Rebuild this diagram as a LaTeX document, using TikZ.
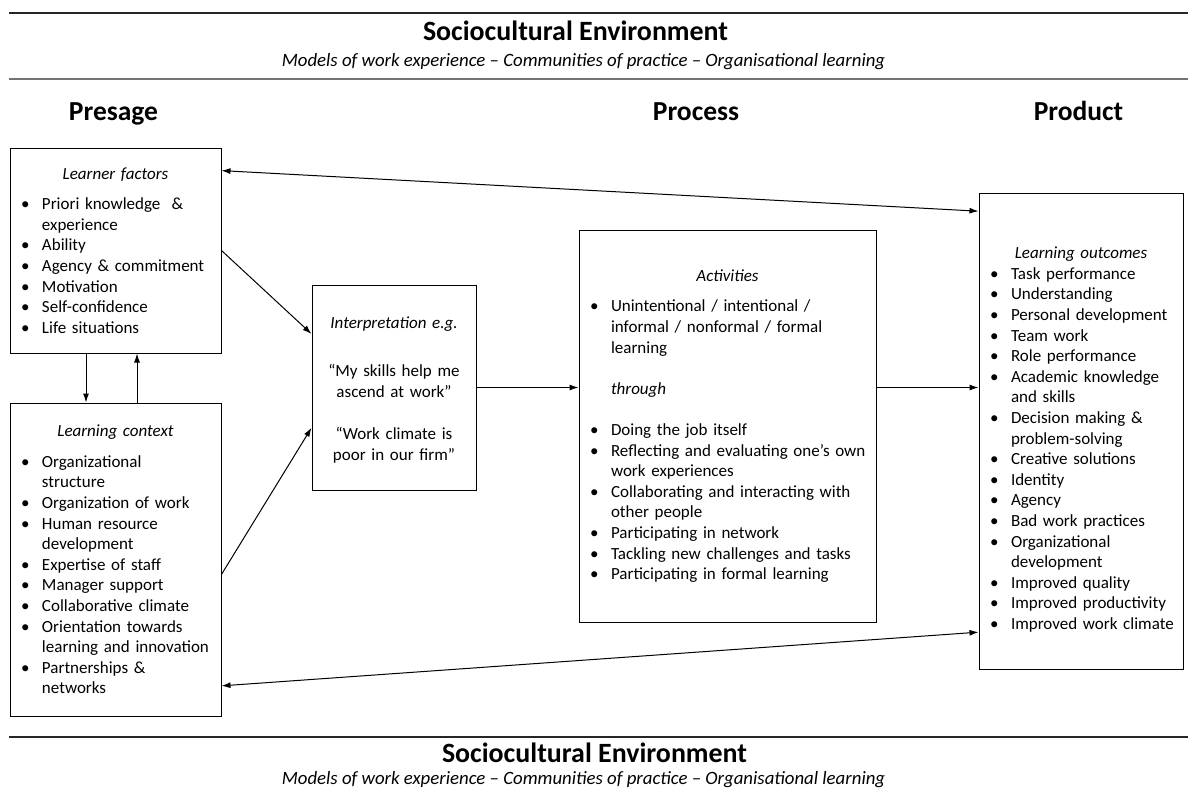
\documentclass[tikz,border=0pt]{standalone}
\usepackage{fontspec}
\setmainfont{Carlito}
\usepackage{tikz}
\usetikzlibrary{arrows.meta}

\newcommand{\bitem}[1]{\par\hangindent=32pt\hangafter=1\noindent\hspace*{11pt}\makebox[21pt][l]{\textbullet}#1}
\newcommand{\boxhead}[1]{{\centering\itshape #1\par}}

\tikzstyle{line} = [draw, line width=1pt, -{Latex[length=9pt, width=6pt]}]
\tikzstyle{dline} = [draw, line width=1pt, {Latex[length=9pt, width=6pt]}-{Latex[length=9pt, width=6pt]}]
\tikzstyle{box} = [rectangle, draw, line width=1pt, inner sep=0pt, align=left, font=\fontsize{17}{20.6}\selectfont]
\tikzstyle{sep} = [draw, black!85, line width=1.3pt]
\tikzstyle{env_title} = [anchor=base, inner sep=1pt, text depth=0pt, font=\fontsize{27.9}{30}\selectfont\bfseries]
\tikzstyle{env_sub} = [anchor=base, inner sep=1pt, text height=13pt, font=\fontsize{18.8}{22}\selectfont\itshape]
\tikzstyle{phase} = [anchor=base, font=\fontsize{27.5}{30}\selectfont\bfseries]

\begin{document}
\begin{tikzpicture}[x=1pt, y=1pt]
\useasboundingbox (0,0) rectangle (1188,-796);

% sociocultural environment, top
\path [sep] (9,-13) -- (1188,-13);
\node [env_title] (env_top) at (575.5,-40) {Sociocultural Environment};
\node [env_sub] (env_top_sub) at (583.5,-66) {Models of work experience -- Communities of practice -- Organisational learning};
\path [sep, black!55, line width=2.5pt] (9,-79) -- (1188,-79);

\node [phase] (presage) at (113.5,-120) {Presage};
\node [phase] (process) at (696,-120) {Process};
\node [phase] (product) at (1078.5,-120) {Product};

% presage
\node [box, minimum width=211pt, minimum height=205pt, text width=211pt] (lf) at (115.5,-250.5) {\boxhead{Learner factors}\vspace{10pt}
\bitem{Priori knowledge~ \&\newline experience}
\bitem{Ability}
\bitem{Agency \& commitment}
\bitem{Motivation}
\bitem{Self-confidence}
\bitem{Life situations}\par};

\node [box, minimum width=211pt, minimum height=313pt, text width=211pt, below of=lf, node distance=309pt] (lc) {\boxhead{Learning context}\vspace{10pt}
\bitem{Organizational\newline structure}
\bitem{Organization of work}
\bitem{Human resource\newline development}
\bitem{Expertise of staff}
\bitem{Manager support}
\bitem{Collaborative climate}
\bitem{Orientation towards\newline learning and innovation}
\bitem{Partnerships \&\newline networks}\par};

\path [line] ([xshift=-29.5pt]lf.south) -- ([xshift=-29.5pt]lf.south |- lc.north);
\path [line] ([xshift=21.5pt]lc.north) -- ([xshift=21.5pt]lc.north |- lf.south);

% process
\node [box, align=center, minimum width=164pt, minimum height=205pt, text width=164pt, right of=lf, node distance=278.5pt, yshift=-137pt] (interp) {\rule{0pt}{16pt}\textit{Interpretation e.g.}\\[28pt]“My skills help me\\ascend at work”\\[21.5pt]“Work climate is\\poor in our firm”};

\node [box, minimum width=297pt, minimum height=392pt, text width=297pt, right of=interp, node distance=333.5pt, yshift=-38.5pt] (act) {\boxhead{Activities}\vspace{10pt}
\bitem{Unintentional / intentional /\newline informal / nonformal / formal\newline learning}
\par\vspace{20.6pt}\noindent\hspace*{32pt}\textit{through}\par\vspace{20.6pt}
\bitem{Doing the job itself}
\bitem{Reflecting and evaluating one’s own\newline work experiences}
\bitem{Collaborating and interacting with\newline other people}
\bitem{Participating in network}
\bitem{Tackling new challenges and tasks}
\bitem{Participating in formal learning}\par};

% product
\node [box, minimum width=204pt, minimum height=476pt, text width=204pt, right of=act, node distance=353.5pt, yshift=-5pt] (out) {\boxhead{\rule{0pt}{29pt}Learning outcomes}
\bitem{Task performance}
\bitem{Understanding}
\bitem{Personal development}
\bitem{Team work}
\bitem{Role performance}
\bitem{Academic knowledge\newline and skills}
\bitem{Decision making \&\newline problem-solving}
\bitem{Creative solutions}
\bitem{Identity}
\bitem{Agency}
\bitem{Bad work practices}
\bitem{Organizational\newline development}
\bitem{Improved quality}
\bitem{Improved productivity}
\bitem{Improved work climate}\par};

\path [line] (lf.east) -- (interp.147);
\path [line] (lc.-8) -- (interp.206);
\path [line] (interp.east) -- (interp.east -| act.west);
\path [line] (interp.east -| act.east) -- (interp.east -| out.west);

\path [dline] (lf.37) -- (out.115.9);
\path [dline] (lc.-50.6) -- (out.243.1);

% sociocultural environment, bottom
\path [sep] (9,-737) -- (1188,-737);
\node [env_title] (env_bot) at (594.5,-762) {Sociocultural Environment};
\node [env_sub] (env_bot_sub) at (583.5,-784) {Models of work experience -- Communities of practice -- Organisational learning};

\end{tikzpicture}
\end{document}
